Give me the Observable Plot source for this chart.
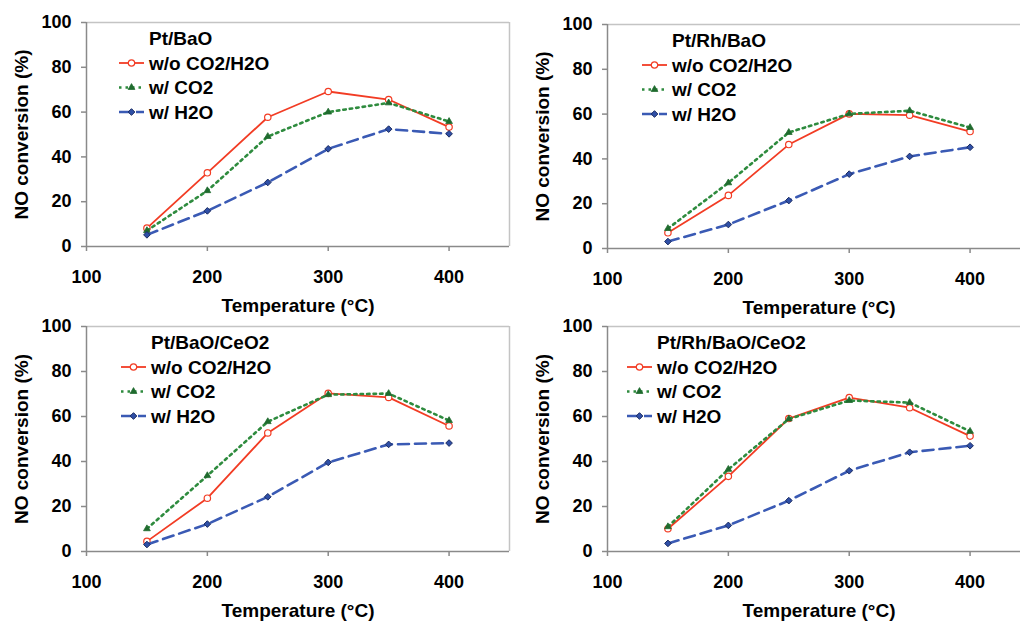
<!DOCTYPE html>
<html>
<head>
<meta charset="utf-8">
<script src="https://cdn.jsdelivr.net/npm/d3@7"></script>
<script src="https://cdn.jsdelivr.net/npm/@observablehq/plot@0.6"></script>
<style>
  html, body { margin: 0; padding: 0; background: #fff; overflow: hidden; }
  #grid { position: relative; width: 1020px; height: 621px; overflow: hidden; background: #fff; }
  #grid > .panel { position: absolute; }
  #grid svg { max-width: none !important; }
</style>
</head>
<body>
<div id="grid"></div>
<script>
// Temperatures (°C) and axis ticks
const temperatures = [150, 200, 250, 300, 350, 400];
const xTicks = [100, 200, 300, 400];
const yTicks = [0, 20, 40, 60, 80, 100];

const seriesNames = ["w/o CO2/H2O", "w/ CO2", "w/ H2O"];
const catalysts = ["Pt/BaO", "Pt/Rh/BaO", "Pt/BaO/CeO2", "Pt/Rh/BaO/CeO2"];

// NO conversion (%) at each temperature
const ptBaO_dry = [8.2, 32.9, 57.7, 69.2, 65.6, 53.3];
const ptBaO_co2 = [7.1, 24.9, 49.1, 60.0, 64.1, 55.8];
const ptBaO_h2o = [5.2, 15.9, 28.6, 43.6, 52.4, 50.3];

const ptRhBaO_dry = [7.0, 23.7, 46.4, 60.1, 59.5, 52.2];
const ptRhBaO_co2 = [8.9, 29.3, 51.8, 60.1, 61.5, 54.0];
const ptRhBaO_h2o = [3.1, 10.7, 21.4, 33.2, 41.1, 45.2];

const ptBaOCeO2_dry = [4.5, 23.7, 52.7, 70.3, 68.5, 55.8];
const ptBaOCeO2_co2 = [10.1, 33.7, 57.7, 69.7, 70.2, 58.2];
const ptBaOCeO2_h2o = [3.1, 12.2, 24.3, 39.6, 47.6, 48.2];

const ptRhBaOCeO2_dry = [10.1, 33.4, 59.1, 68.4, 63.9, 51.3];
const ptRhBaOCeO2_co2 = [11.0, 36.5, 58.9, 67.1, 66.2, 53.4];
const ptRhBaOCeO2_h2o = [3.6, 11.6, 22.6, 35.9, 44.1, 47.0];

const seriesByCatalyst = [
  [ptBaO_dry, ptBaO_co2, ptBaO_h2o],
  [ptRhBaO_dry, ptRhBaO_co2, ptRhBaO_h2o],
  [ptBaOCeO2_dry, ptBaOCeO2_co2, ptBaOCeO2_h2o],
  [ptRhBaOCeO2_dry, ptRhBaOCeO2_co2, ptRhBaOCeO2_h2o]
];

// Drawing styles for the three feed conditions
const seriesStyles = [
  {stroke: "#f23c24", width: 1.8, dash: null, symbol: "circle", d3symbol: d3.symbolCircle, r: 3.2, fill: "#fff", markStroke: "#f23c24", markWidth: 1.2},
  {stroke: "#2e8b3e", width: 2.6, dash: "2.5,4", symbol: "triangle", d3symbol: d3.symbolTriangle, r: 2.5, fill: "#1f6b2e", markStroke: "#1f6b2e", markWidth: 0.8},
  {stroke: "#3a5ab4", width: 2.6, dash: "11,6", symbol: "diamond2", d3symbol: d3.symbolDiamond2, r: 3.0, fill: "#2f4fa6", markStroke: "#1b2c62", markWidth: 1}
];

// Panel placement in the 2x2 grid
const panels = [
  {left: 0,   top: 0,   width: 520, height: 310, marginLeft: 86, marginRight: 11, marginTop: 22, marginBottom: 64, legendX: 33},
  {left: 510, top: 0,   width: 520, height: 310, marginLeft: 97, marginRight: 0,  marginTop: 24, marginBottom: 62, legendX: 35},
  {left: 0,   top: 310, width: 520, height: 311, marginLeft: 86, marginRight: 11, marginTop: 16, marginBottom: 70, legendX: 35},
  {left: 510, top: 310, width: 520, height: 311, marginLeft: 97, marginRight: 0,  marginTop: 16, marginBottom: 70, legendX: 20}
];

const FONT = "'Liberation Sans', Arial, Helvetica, sans-serif";

// In-plot legend: catalyst name followed by one row per feed condition
function legendMark(title, offsetX) {
  return (index, scales, values, dims) => {
    const g = d3.create("svg:g")
      .attr("font-family", FONT)
      .attr("font-size", 19)
      .attr("font-weight", "bold")
      .attr("fill", "#000")
      .attr("text-anchor", "start");
    const x0 = dims.marginLeft + offsetX;
    const y0 = dims.marginTop;
    g.append("text")
      .attr("x", x0 + 30).attr("y", y0 + 16.5).attr("dy", "0.36em")
      .text(title);
    seriesStyles.forEach((s, i) => {
      const y = y0 + 41 + i * 24.5;
      g.append("line")
        .attr("x1", x0).attr("x2", x0 + 25).attr("y1", y).attr("y2", y)
        .attr("stroke", s.stroke).attr("stroke-width", s.width)
        .attr("stroke-dasharray", s.dash);
      g.append("path")
        .attr("transform", `translate(${x0 + 12.5},${y})`)
        .attr("d", d3.symbol(s.d3symbol, Math.PI * s.r * s.r)())
        .attr("fill", s.fill).attr("stroke", s.markStroke).attr("stroke-width", s.markWidth);
      g.append("text")
        .attr("x", x0 + 30).attr("y", y).attr("dy", "0.36em")
        .text(seriesNames[i]);
    });
    return g.node();
  };
}

const grid = document.getElementById("grid");

catalysts.forEach((catalyst, p) => {
  const cfg = panels[p];
  const rows = [];
  seriesNames.forEach((name, s) => {
    seriesByCatalyst[p][s].forEach((v, i) => rows.push({series: name, T: temperatures[i], value: v}));
  });

  const seriesMarks = seriesNames.flatMap((name, s) => {
    const st = seriesStyles[s];
    const data = rows.filter(d => d.series === name);
    return [
      Plot.line(data, {x: "T", y: "value", stroke: st.stroke, strokeWidth: st.width, strokeDasharray: st.dash}),
      Plot.dot(data, {x: "T", y: "value", symbol: st.symbol, r: st.r, fill: st.fill, stroke: st.markStroke, strokeWidth: st.markWidth})
    ];
  });

  const chart = Plot.plot({
    width: cfg.width,
    height: cfg.height,
    marginLeft: cfg.marginLeft,
    marginRight: cfg.marginRight,
    marginTop: cfg.marginTop,
    marginBottom: cfg.marginBottom,
    style: {fontFamily: FONT, fontSize: "18px", fontWeight: "bold", background: "transparent", color: "#000", overflow: "visible", maxWidth: "none"},
    x: {domain: [100, 450]},
    y: {domain: [0, 100]},
    marks: [
      // plot-area border: light top/right, darker axis lines
      Plot.ruleY([100], {stroke: "#c4c4c4", strokeWidth: 1.5}),
      Plot.ruleX([450], {stroke: "#c4c4c4", strokeWidth: 1.5}),
      Plot.ruleY([0], {stroke: "#8a8a8a", strokeWidth: 1.5}),
      Plot.ruleX([100], {stroke: "#8a8a8a", strokeWidth: 1.5}),
      Plot.axisX({ticks: xTicks, tickSize: 5, tickPadding: 19, stroke: "#8a8a8a", strokeWidth: 1.5, fill: "#000", fontSize: 18, fontWeight: "bold", label: null}),
      Plot.axisY({ticks: yTicks, tickSize: 5, tickPadding: 10, stroke: "#8a8a8a", strokeWidth: 1.5, fill: "#000", fontSize: 18, fontWeight: "bold", label: null}),
      Plot.text(["Temperature (°C)"], {text: d => d, frameAnchor: "bottom", lineAnchor: "middle", textAnchor: "middle", dy: 59, fontSize: 19, fontWeight: "bold", fill: "#000"}),
      Plot.text(["NO conversion (%)"], {text: d => d, frameAnchor: "left", lineAnchor: "middle", textAnchor: "middle", dx: -65, rotate: -90, fontSize: 19, fontWeight: "bold", fill: "#000"}),
      ...seriesMarks,
      legendMark(catalyst, cfg.legendX)
    ]
  });

  const holder = document.createElement("div");
  holder.className = "panel";
  holder.style.left = cfg.left + "px";
  holder.style.top = cfg.top + "px";
  holder.style.width = cfg.width + "px";
  holder.style.height = cfg.height + "px";
  holder.appendChild(chart);
  grid.appendChild(holder);
});
</script>
</body>
</html>
